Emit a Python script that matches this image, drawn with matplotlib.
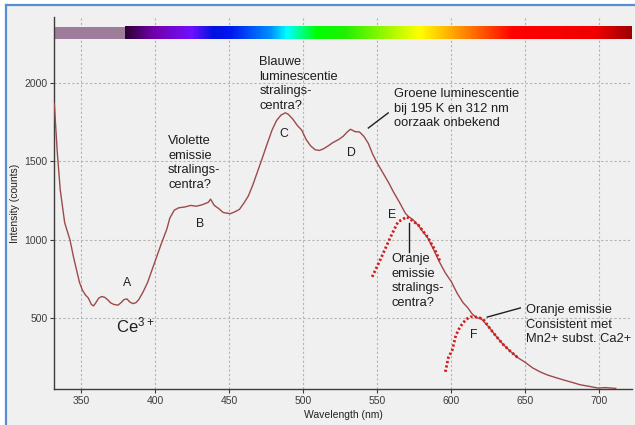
import numpy as np
import matplotlib
matplotlib.use('Agg')
import matplotlib.pyplot as plt
from matplotlib.colors import LinearSegmentedColormap, Normalize
from matplotlib.patches import Rectangle
from matplotlib.lines import Line2D

plt.rcParams['font.family'] = ['Liberation Sans', 'DejaVu Sans']

golflengte = [332, 334, 336, 339, 342.6, 345, 347, 349, 351, 353, 355, 357, 358.5,
              360, 362, 364, 366, 368, 370, 372, 375, 377, 379, 381, 383, 385, 387,
              389, 392, 395, 398, 401, 404, 408, 410, 413, 416, 420, 424, 428, 432,
              436, 437.5, 440, 443, 446, 449, 451, 454, 457, 460, 463, 466, 469, 472,
              476, 479, 482, 485, 488, 490, 493, 496, 499, 502, 505, 508, 511, 514,
              517, 520, 524, 527, 530, 532, 535, 538, 541, 544, 547, 550, 554, 558,
              561, 565, 569, 571, 574, 578, 581, 584, 588, 592, 596, 600, 604, 608,
              611, 614, 617, 620, 625, 630, 635, 640, 645, 650, 655, 660, 665, 670,
              676, 682, 687, 693, 699, 704, 709, 711]
intensiteit = [1870, 1560, 1320, 1110, 1000, 890, 810, 730, 680, 650, 630, 590, 580,
               600, 630, 640, 635, 620, 600, 590, 585, 600, 620, 625, 605, 595, 600,
               620, 670, 730, 810, 890, 970, 1070, 1140, 1190, 1205, 1210, 1220, 1215, 1225,
               1240, 1260, 1220, 1200, 1175, 1170, 1168, 1180, 1195, 1235, 1280, 1350, 1430, 1510,
               1620, 1700, 1760, 1795, 1810, 1800, 1770, 1730, 1700, 1640, 1600, 1575, 1570, 1582,
               1600, 1620, 1640, 1660, 1690, 1705, 1690, 1688, 1660, 1615, 1545, 1490, 1425, 1360,
               1305, 1240, 1170, 1150, 1130, 1090, 1050, 1015, 940, 860, 790, 735, 660, 600,
               570, 530, 505, 500, 450, 390, 335, 290, 250, 220, 185, 160, 140, 125,
               108, 92, 78, 68, 57, 60, 56, 55]

# Gefitte pieken E en F (rode stippellijnen)
piek_e_x = [546.6, 552, 559, 564, 570, 577.7, 584, 589, 592.6]
piek_e_y = [765, 873, 1019, 1115, 1147, 1096, 1019, 936, 860]
piek_f_x = [596, 598, 600.7, 603, 605, 607, 610, 613, 616, 619, 622, 625, 630, 635, 640, 645]
piek_f_y = [160, 250, 300, 390, 430, 460, 495, 510, 510, 505, 490, 450, 390, 335, 290, 250]

x_ticks = [350, 400, 450, 500, 550, 600, 650, 700]
y_ticks = [500, 1000, 1500, 2000]

# kleurenbalk van het zichtbare spectrum
spectrum_stops = [(380, '#300038'), (398, '#7000a8'), (424, '#7010ff'), (439, '#0010e0'),
                  (451, '#0018f0'), (478, '#0090ff'), (489, '#00ffff'), (509, '#00ff00'),
                  (528, '#20f000'), (579, '#ffff00'), (611, '#ff8000'), (642, '#ff0000'),
                  (699, '#f00000'), (722, '#a00000')]

fig = plt.figure(figsize=(6.35, 4.25), dpi=100)
fig.patch.set_facecolor('white')
fig.patches.append(Rectangle((6 / 635, 0), 1, 1 - 5 / 425, transform=fig.transFigure,
                             facecolor='#f0f0f0', edgecolor='none', zorder=-10))
fig.lines.append(Line2D([6 / 635, 6 / 635], [0, 1 - 5 / 425], transform=fig.transFigure,
                        color='#5a8ed0', lw=1.6, zorder=-5))
fig.lines.append(Line2D([6 / 635, 1], [1 - 5 / 425, 1 - 5 / 425], transform=fig.transFigure,
                        color='#5a8ed0', lw=1.6, zorder=-5))

ax = fig.add_axes([54 / 635, 1 - 389 / 425, 578 / 635, 372 / 425])
ax.set_facecolor('#f0f0f0')
xmin, xmax = 331.8, 722
ymin, ymax = 51, 2420

# spectrum balk
lo, hi = spectrum_stops[0][0], spectrum_stops[-1][0]
cmap = LinearSegmentedColormap.from_list(
    'spec', [((w - lo) / (hi - lo), c) for w, c in spectrum_stops])
grad = np.linspace(lo, hi, 600)[None, :]
ax.imshow(grad, extent=[lo, hi, 2280, 2357], aspect='auto', cmap=cmap,
          norm=Normalize(lo, hi), zorder=2)
ax.add_patch(Rectangle((xmin, 2280), lo - xmin, 77, facecolor='#9e7d9a',
                       edgecolor='none', zorder=2))

ax.plot(golflengte, intensiteit, color='#9c4a4a', lw=1.0, zorder=3)
ax.plot(piek_e_x, piek_e_y, color='#d41c1c', lw=2.0, ls=(0, (0.8, 0.8)), zorder=4)
ax.plot(piek_f_x, piek_f_y, color='#d41c1c', lw=2.0, ls=(0, (0.8, 0.8)), zorder=4)

ax.set_xlim(xmin, xmax)
ax.set_ylim(ymin, ymax)
ax.set_xticks(x_ticks)
ax.set_yticks(y_ticks)
ax.grid(True, color='#b4b4b4', ls=(0, (2, 2)), lw=0.8)
ax.set_axisbelow(True)
for s in ['top', 'right']:
    ax.spines[s].set_visible(False)
for s in ['left', 'bottom']:
    ax.spines[s].set_color('#3c3c3c')
    ax.spines[s].set_linewidth(1.0)
ax.tick_params(axis='both', labelsize=7.5, colors='#3c3c3c', length=3, width=0.8)
ax.tick_params(axis='x', pad=2)
ax.tick_params(axis='y', pad=1.5)
ax.set_xlabel('Wavelength (nm)', fontsize=7.5, color='#222222', labelpad=3)
ax.set_ylabel('Intensity (counts)', fontsize=7.5, color='#222222', labelpad=3)

fs = 9.3
txt = dict(fontsize=fs, color='#1e1e1e', linespacing=1.3, va='top', ha='left')
ax.text(470.3, 2172, 'Blauwe\nluminescentie\nstralings-\ncentra?', **txt)
ax.text(408.8, 1669, 'Violette\nemissie\nstralings-\ncentra?', **txt)
ax.text(561.5, 1968, 'Groene luminescentie\nbij 195 K en 312 nm\noorzaak onbekend', **txt)
ax.text(559.5, 917, 'Oranje\nemissie\nstralings-\ncentra?', **txt)
ax.text(650.7, 592, 'Oranje emissie\nConsistent met\nMn2+ subst. Ca2+', **txt)

ax.plot([544, 557.4], [1713, 1809], color='#1e1e1e', lw=1.0)
ax.plot([571.6, 571.6], [1108, 923], color='#1e1e1e', lw=1.0)
ax.plot([624.3, 646.6], [509, 567], color='#1e1e1e', lw=1.0)

let = dict(fontsize=8.8, color='#1e1e1e', ha='center', va='center')
ax.text(381, 726, 'A', **let)
ax.text(430.4, 1102, 'B', **let)
ax.text(487.2, 1675, 'C', **let)
ax.text(532.4, 1554, 'D', **let)
ax.text(560.1, 1159, 'E', **let)
ax.text(615.5, 395, 'F', **let)
ax.text(373.6, 414, r'$\mathregular{Ce^{3+}}$', fontsize=12, color='#1e1e1e',
        ha='left', va='baseline')

fig.savefig('out.png', dpi=100)
